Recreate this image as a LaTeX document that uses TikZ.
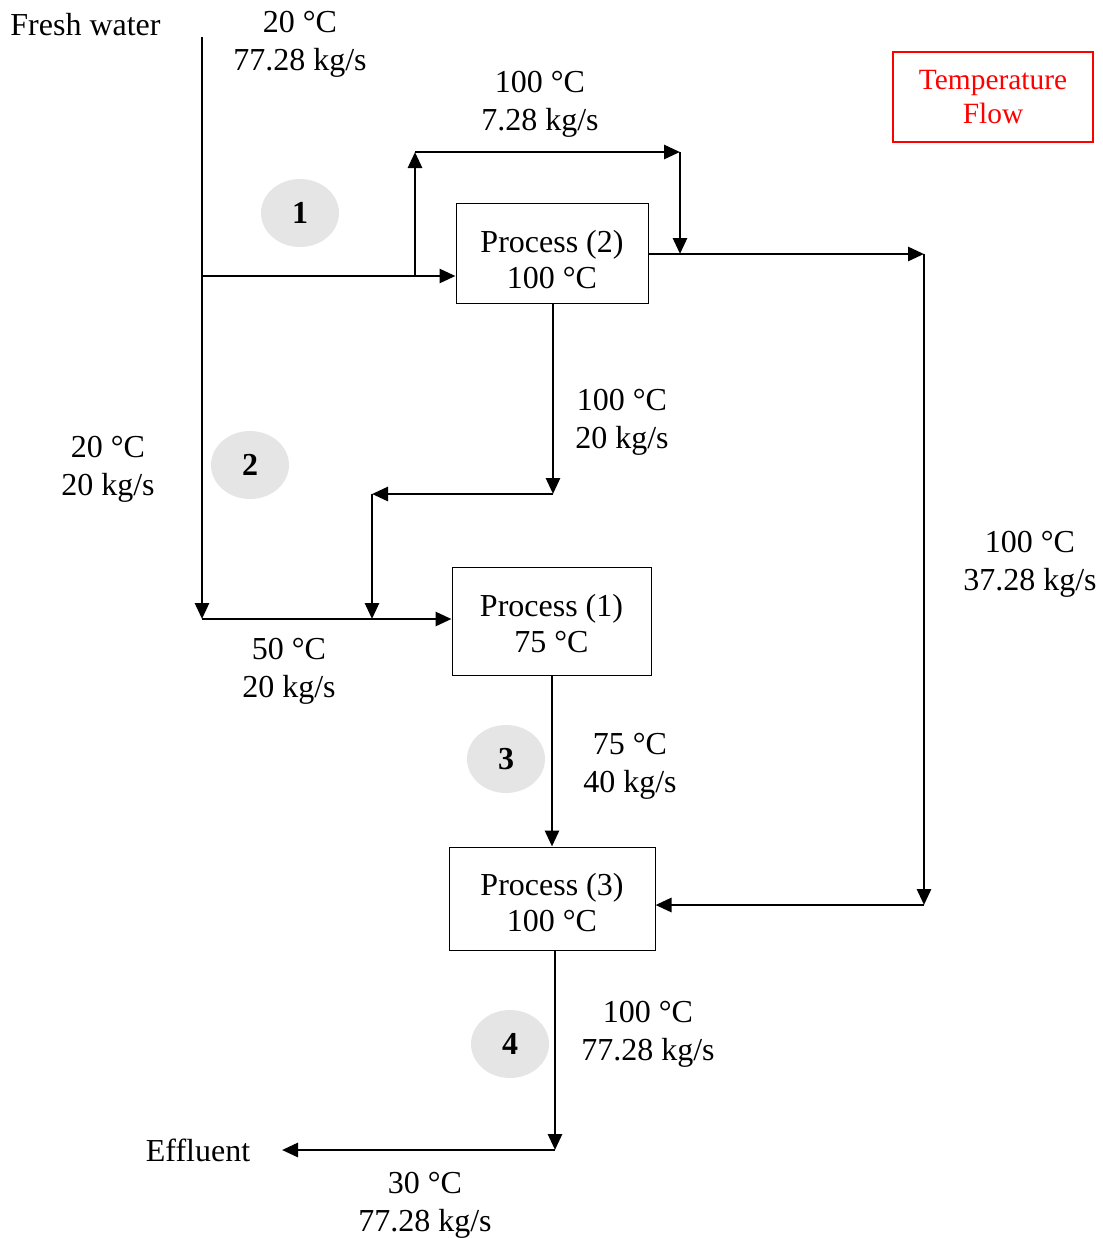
\documentclass[tikz,border=0pt]{standalone}
\usepackage{fontspec}
\setmainfont{Liberation Serif}
\usetikzlibrary{arrows.meta,shapes.geometric}
\newcommand{\ptext}[2]{\smash{\raisebox{#1}{\begin{tabular}{@{}c@{}}#2\end{tabular}}}}
\begin{document}
\begin{tikzpicture}[x=0.5pt,y=-0.5pt,
  flow/.style={line width=1.4pt,-{Triangle[length=8pt,width=7pt]}},
  proc/.style={draw,line width=0.5pt,align=center,font=\fontsize{16}{18}\selectfont,inner sep=0pt},
  lbl/.style={align=center,font=\fontsize{16}{19}\selectfont,inner sep=0pt},
  num/.style={ellipse,fill=black!10,minimum width=39pt,minimum height=34pt,inner sep=0pt,font=\fontsize{16}{19}\selectfont\bfseries}]
\useasboundingbox (0,0) rectangle (1103,1238);
% process boxes
\node[proc,minimum width=96pt,minimum height=50pt] (P2) at (552,253) {\ptext{-9.5pt}{Process (2)\\100 °C}};
\node[proc,minimum width=99.5pt,minimum height=54pt] (P1) at (551.5,621) {\ptext{-7.5pt}{Process (1)\\75 °C}};
\node[proc,minimum width=103pt,minimum height=51.5pt] (P3) at (552,898.5) {\ptext{-8.25pt}{Process (3)\\100 °C}};
% legend
\node[draw=red,text=red,line width=0.6pt,minimum width=100pt,minimum height=45pt,align=center,inner sep=0pt,font=\fontsize{14.7}{17}\selectfont] (leg) at (993,97) {Temperature\\Flow};
% coordinates
\coordinate (fw) at (202,37);
\coordinate (fb) at (202,276);
\coordinate (fe) at (202,619);
\coordinate (bu) at (415,276);
\coordinate (bt) at (415,152);
\coordinate (bR) at (680,152);
\coordinate (bd) at (680,254);
\coordinate (rt) at (924,254);
\coordinate (rb) at (924,905);
\coordinate (m1) at (553,494);
\coordinate (m2) at (372,494);
\coordinate (m3) at (372,619);
\coordinate (ef) at (555,1150);
\coordinate (el) at (282,1150);
\coordinate (vx) at (552,0);
% connectors
\draw[flow] (fw) -- (fe);
\draw[flow] (fb) -- (fb -| P2.west);
\draw[flow] (bu) -- (bt);
\draw[flow] (bt) -- (bR);
\draw[flow] (bR) -- (bd);
\draw[flow] (P2.east |- rt) -- (rt);
\draw[flow] (rt) -- (rb);
\draw[flow] (rb) -- (rb -| P3.east);
\draw[flow] (P2.south -| m1) -- (m1);
\draw[flow] (m1) -- (m2);
\draw[flow] (m2) -- (m3);
\draw[flow] (fe) -- (fe -| P1.west);
\draw[flow] (P1.south -| vx) -- (P3.north -| vx);
\draw[flow] (P3.south -| ef) -- (ef);
\draw[flow] (ef) -- (el);
% labels
\node[lbl,anchor=west] (fwl) at (10,25) {Fresh water};
\node[lbl] (l0) at (300,44) {20 °C\\77.28 kg/s};
\node[lbl] (l1) at (540,104) {100 °C\\7.28 kg/s};
\node[lbl] (l2) at (622,422) {100 °C\\20 kg/s};
\node[lbl] (l3) at (108,469) {20 °C\\20 kg/s};
\node[lbl] (l4) at (289,671) {50 °C\\20 kg/s};
\node[lbl] (l5) at (630,766) {75 °C\\40 kg/s};
\node[lbl] (l6) at (648,1034) {100 °C\\77.28 kg/s};
\node[lbl] (l7) at (425,1205) {30 °C\\77.28 kg/s};
\node[lbl] (l8) at (1030,564) {100 °C\\37.28 kg/s};
\node[lbl] (efl) at (198,1150) {Effluent};
% numbered circles
\node[num] (c1) at (300,213) {1};
\node[num] (c2) at (250,465) {2};
\node[num] (c3) at (506,759) {3};
\node[num] (c4) at (510,1044) {4};
\end{tikzpicture}
\end{document}
